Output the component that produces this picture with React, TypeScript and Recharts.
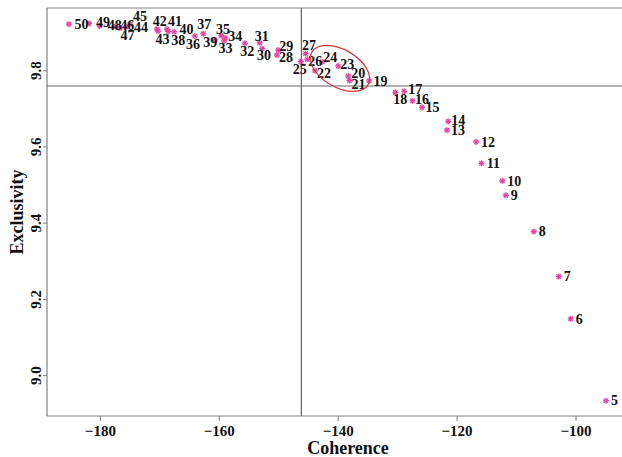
import React from 'react';
import { ScatterChart, Scatter, XAxis, YAxis, ReferenceLine, ReferenceDot, Label } from 'recharts';

const topics = [5, 6, 7, 8, 9, 10, 11, 12, 13, 14, 15, 16, 17, 18, 19, 20, 21, 22, 23, 24, 25, 26, 27, 28, 29, 30, 31, 32, 33, 34, 35, 36, 37, 38, 39, 40, 41, 42, 43, 44, 45, 46, 47, 48, 49, 50];
const coherence = [-94.95, -100.9, -102.9, -107.1, -111.8, -112.4, -115.9, -116.8, -121.7, -121.5, -125.9, -127.5, -128.9, -130.4, -134.8, -138.3, -138.1, -143.9, -140.0, -142.7, -146.3, -145.2, -145.5, -150.3, -150.1, -152.8, -153.2, -155.7, -159.2, -159.0, -159.7, -164.1, -162.7, -168.6, -160.7, -167.6, -168.8, -170.5, -170.3, -175.7, -175.0, -177.4, -176.7, -180.1, -181.9, -185.3];
const exclusivity = [8.934, 9.149, 9.26, 9.378, 9.473, 9.511, 9.557, 9.613, 9.644, 9.667, 9.704, 9.721, 9.746, 9.743, 9.773, 9.786, 9.774, 9.8, 9.812, 9.823, 9.824, 9.83, 9.845, 9.841, 9.854, 9.858, 9.873, 9.872, 9.878, 9.886, 9.892, 9.891, 9.897, 9.903, 9.881, 9.902, 9.909, 9.909, 9.904, 9.915, 9.922, 9.916, 9.912, 9.917, 9.924, 9.922];

const xTicks = [-180, -160, -140, -120, -100];
const yTicks = [9.0, 9.2, 9.4, 9.6, 9.8];
const xDomain: [number, number] = [-188.98, -87.72];
const yDomain: [number, number] = [8.894, 9.9645];
const coherenceCut = -146.2;
const exclusivityCut = 9.76;
const highlightX = -139.7;
const highlightY = 9.806;

// label placement (layout only): offset of label centre from the marker
const labelOffset: Record<number, [number, number]> = {
  5: [8.5, 0], 6: [8.5, 0], 7: [8.5, 0], 8: [8.5, 0], 9: [8.5, 0], 10: [12, 0], 11: [12, 0], 12: [12, 0],
  13: [11, 0], 14: [10, -1], 15: [10.5, 0], 16: [9.5, -1.5], 17: [11, -2], 18: [5, 7], 19: [11.5, 0],
  20: [10, -3], 21: [9, 3.5], 22: [9, 2.5], 23: [9, -1.5], 24: [8, -5], 25: [-1, 7.5], 26: [8, 2],
  27: [3.5, -8.5], 28: [9, 2.5], 29: [8, -4], 30: [2, 7], 31: [2, -7], 32: [2.5, 8], 33: [1.5, 7],
  34: [10, -2], 35: [2, -6.5], 36: [-2, 8], 37: [1, -9], 38: [10, 9], 39: [-5, 2], 40: [12.5, -2.5],
  41: [8, -7.5], 42: [3, -7.5], 43: [4.5, 8], 44: [15, 0.5], 45: [10, -8], 46: [11.5, -1.5],
  47: [7.5, 7], 48: [15, -1], 49: [14, -1], 50: [12.5, 0],
};

const data = topics.map((t, i) => ({ topic: t, x: coherence[i], y: exclusivity[i] }));

const FONT = '"Liberation Serif", "Times New Roman", serif';
const AXIS = '#808080';
const PINK = '#e0449e';

const PointShape = (props: any) => {
  const { cx, cy, payload } = props;
  if (cx == null || cy == null) return null;
  const off = labelOffset[payload.topic] ?? [12, 0];
  const r = 3;
  const d = r * 0.72;
  return (
    <g>
      <line x1={cx - r} y1={cy} x2={cx + r} y2={cy} stroke={PINK} strokeWidth={1.3} />
      <line x1={cx} y1={cy - r} x2={cx} y2={cy + r} stroke={PINK} strokeWidth={1.3} />
      <line x1={cx - d} y1={cy - d} x2={cx + d} y2={cy + d} stroke={PINK} strokeWidth={1.3} />
      <line x1={cx - d} y1={cy + d} x2={cx + d} y2={cy - d} stroke={PINK} strokeWidth={1.3} />
      <text x={cx + off[0]} y={cy + off[1] + 4.7} textAnchor="middle" fontFamily={FONT} fontWeight="bold" fontSize={14} fill="#111">
        {payload.topic}
      </text>
    </g>
  );
};

const XTick = (props: any) => {
  const { x, y, payload } = props;
  const v = payload.value as number;
  const s = v < 0 ? '\u2212' + Math.abs(v) : String(v);
  return (
    <text x={x} y={y + 13} textAnchor="middle" fontFamily={FONT} fontWeight="bold" fontSize={15} fill="#111">
      {s}
    </text>
  );
};

const YTick = (props: any) => {
  const { x, y, payload } = props;
  return (
    <text x={x} y={y} transform={`rotate(-90, ${x}, ${y})`} textAnchor="middle" fontFamily={FONT} fontWeight="bold" fontSize={15} fill="#111">
      {(payload.value as number).toFixed(1)}
    </text>
  );
};

const Ellipse = (props: any) => {
  const { cx, cy } = props;
  return (
    <ellipse cx={cx} cy={cy} rx={32.5} ry={18.8} transform={`rotate(30 ${cx} ${cy})`} fill="none" stroke="#d0393b" strokeWidth={1.2} />
  );
};

export default function App() {
  return (
    <div style={{ position: 'absolute', left: 0, top: 0, width: 622, height: 457, overflow: 'hidden', background: '#fff' }}>
      <ScatterChart width={649} height={457} margin={{ top: 8, right: 0, bottom: 0, left: 0 }}>
        <XAxis
          type="number"
          dataKey="x"
          domain={xDomain}
          allowDataOverflow
          ticks={xTicks}
          tick={<XTick />}
          tickSize={5}
          tickMargin={2}
          height={41}
          axisLine={{ stroke: AXIS, strokeWidth: 1.2 }}
          tickLine={{ stroke: AXIS }}
        >
          <Label
            content={() => (
              <text x={348} y={454} textAnchor="middle" fontFamily={FONT} fontWeight="bold" fontSize={18} fill="#111">
                Coherence
              </text>
            )}
          />
        </XAxis>
        <YAxis
          type="number"
          dataKey="y"
          domain={yDomain}
          allowDataOverflow
          ticks={yTicks}
          tick={<YTick />}
          tickSize={4}
          tickMargin={2}
          width={47}
          axisLine={{ stroke: AXIS, strokeWidth: 1.2 }}
          tickLine={{ stroke: AXIS }}
        >
          <Label
            content={() => (
              <text x={23} y={212} transform="rotate(-90, 23, 212)" textAnchor="middle" fontFamily={FONT} fontWeight="bold" fontSize={18} fill="#111">
                Exclusivity
              </text>
            )}
          />
        </YAxis>
        <ReferenceLine y={yDomain[1]} stroke={AXIS} strokeWidth={1.2} />
        <ReferenceLine x={coherenceCut} stroke="#555" strokeWidth={1.1} />
        <ReferenceLine y={exclusivityCut} stroke="#666" strokeWidth={1.1} />
        <Scatter data={data} shape={<PointShape />} isAnimationActive={false} />
        <ReferenceDot x={highlightX} y={highlightY} r={1} shape={<Ellipse />} />
      </ScatterChart>
    </div>
  );
}
